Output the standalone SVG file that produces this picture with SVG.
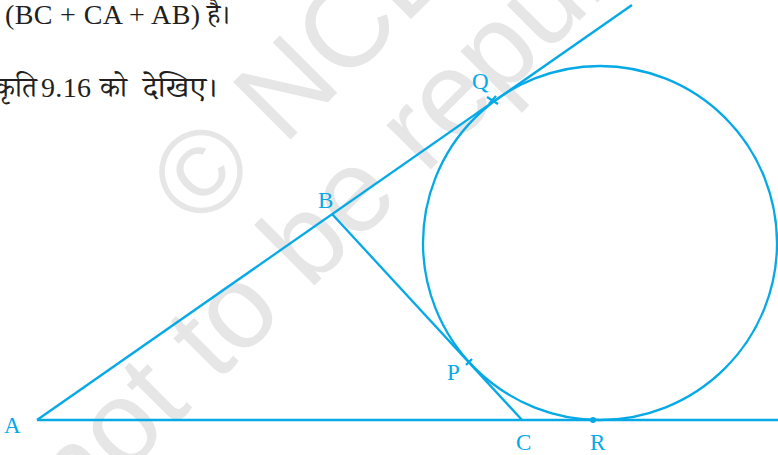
<svg xmlns="http://www.w3.org/2000/svg" width="778" height="455" viewBox="0 0 778 455">
<style>
.wm{font-family:"Liberation Sans","DejaVu Sans",sans-serif;font-size:118px;fill:#e6e6e6}
.txt{font-family:"Liberation Serif","Noto Serif Devanagari","Noto Sans Devanagari",serif;font-size:28px;fill:#231f20}
.lbl{font-family:"Liberation Serif",serif;font-size:23px;fill:#05a9e6}
.ln{stroke:#05a9e6;stroke-width:2.3;fill:none}
</style>
<rect width="778" height="455" fill="#ffffff"/>
<g id="watermark">
<text class="wm" transform="translate(199,231) rotate(-45)">© NCERT</text>
<text class="wm" transform="translate(77,523) rotate(-45)">not to be republished</text>
</g>
<g id="text">
<text class="txt" y="24"><tspan x="5" textLength="195" lengthAdjust="spacing">(BC + CA + AB)</tspan><tspan x="207">है।</tspan></text>
<text class="txt" y="97"><tspan x="-5">कृति</tspan><tspan x="41" textLength="50" lengthAdjust="spacing">9.16</tspan><tspan x="100">को</tspan></text>
<text class="txt" x="143" y="97" textLength="75" lengthAdjust="spacingAndGlyphs">देखिए।</text>
</g>
<g id="connectors">
<line class="ln" x1="37" y1="420" x2="632" y2="5"/>
<line class="ln" x1="37" y1="420" x2="778" y2="420"/>
<line class="ln" x1="332" y1="214" x2="522" y2="420"/>
<path class="ln" d="M487,97 L498,104 M489,104 L496,96"/>
<path class="ln" d="M466,365 L472,359"/>
</g>
<g id="circle"><circle class="ln" cx="600" cy="243" r="177"/></g>
<g id="R"><circle cx="593" cy="420" r="3" fill="#05a9e6"/><text class="lbl" x="590" y="450">R</text></g>
<g id="A"><text class="lbl" x="4" y="433">A</text></g>
<g id="B"><text class="lbl" x="318" y="208">B</text></g>
<g id="C"><text class="lbl" x="516" y="450">C</text></g>
<g id="P"><text class="lbl" x="447" y="380">P</text></g>
<g id="Q"><text class="lbl" x="472" y="89">Q</text></g>
</svg>
